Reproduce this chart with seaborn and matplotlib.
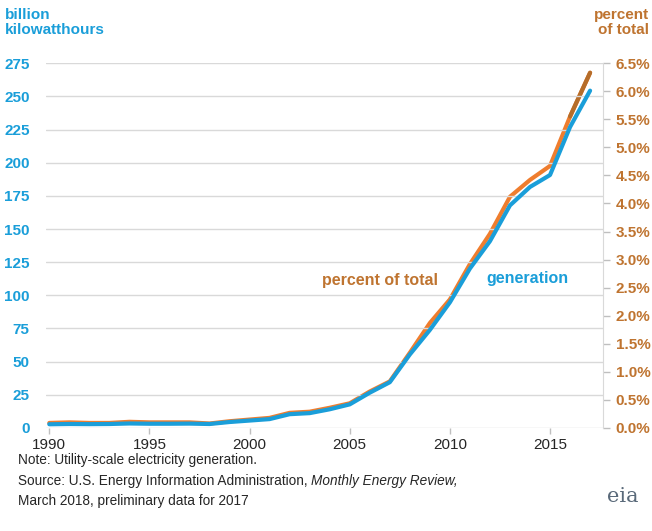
import pandas as pd
import seaborn as sns
import matplotlib.pyplot as plt

# wind electricity generation, utility-scale
years = list(range(1990, 2018))
generation = [2.8, 3.0, 2.9, 3.0, 3.4, 3.2, 3.2, 3.3, 3.0, 4.5,
              5.6, 6.7, 10.4, 11.2, 14.1, 17.8, 26.6, 34.5, 55.4, 73.9,
              94.7, 120.2, 140.8, 167.8, 181.7, 190.7, 226.9, 254.3]
percent = [0.09, 0.10, 0.09, 0.09, 0.11, 0.10, 0.10, 0.10, 0.08, 0.12,
           0.15, 0.18, 0.27, 0.29, 0.36, 0.44, 0.65, 0.83, 1.34, 1.87,
           2.29, 2.92, 3.46, 4.12, 4.42, 4.67, 5.55, 6.33]
left_ticks = [0, 25, 50, 75, 100, 125, 150, 175, 200, 225, 250, 275]
right_ticks = [0.0, 0.5, 1.0, 1.5, 2.0, 2.5, 3.0, 3.5, 4.0, 4.5, 5.0, 5.5, 6.0, 6.5]
year_ticks = [1990, 1995, 2000, 2005, 2010, 2015]

df = pd.DataFrame({"year": years, "generation": generation, "percent": percent})

blue = "#1a9ed9"
orange = "#ef7d2e"
brown = "#bf7430"
dark_brown = "#b56d2a"

sns.set_style("white")
plt.rcParams["font.family"] = ["Liberation Sans", "DejaVu Sans"]

fig = plt.figure(figsize=(6.52, 5.31), dpi=100)
ax = fig.add_axes([0.071, 0.194, 0.854, 0.687])
ax2 = ax.twinx()

# gridlines
for t in left_ticks:
    ax.axhline(t, color="#d9d9d9", lw=1, zorder=0)

sns.lineplot(data=df, x="year", y="percent", ax=ax2, color=orange, lw=3)
# 2017 preliminary segment in darker brown
sns.lineplot(data=df.iloc[-2:], x="year", y="percent", ax=ax2, color=dark_brown, lw=3)
sns.lineplot(data=df, x="year", y="generation", ax=ax, color=blue, lw=3, zorder=3)

ax.set_zorder(ax2.get_zorder() + 1)
ax.patch.set_visible(False)

ax.set_xlim(1989.85, 2017.65)
ax.set_ylim(0, 275)
ax2.set_ylim(0, 6.5)

ax.set_yticks(left_ticks)
ax.set_yticklabels([str(t) for t in left_ticks], color=blue, fontweight="bold", fontsize=11)
ax.set_xticks(year_ticks)
ax.set_xticklabels([str(y) for y in year_ticks], fontsize=11)
ax2.set_yticks(right_ticks)
ax2.set_yticklabels([f"{t:.1f}%" for t in right_ticks], color=brown, fontweight="bold", fontsize=11)

ax.tick_params(axis="y", length=0, pad=12)
ax.tick_params(axis="x", bottom=True, length=4, color="#bfbfbf", width=1, pad=3)
ax2.tick_params(axis="y", right=True, length=5, color="#bfbfbf", width=1, pad=4)
ax.set_xlabel("")
ax.set_ylabel("")
ax2.set_ylabel("")

for a in (ax, ax2):
    for s in a.spines.values():
        s.set_visible(False)
ax2.spines["right"].set_visible(True)
ax2.spines["right"].set_color("#d9d9d9")

# titles for the axes
fig.text(0.008, 0.985, "billion\nkilowatthours", color=blue, fontweight="bold",
         fontsize=11, va="top", ha="left", linespacing=1.1)
fig.text(0.996, 0.985, "percent\nof total", color=brown, fontweight="bold",
         fontsize=11, va="top", ha="right", linespacing=1.1)

# series labels
ax.text(2006.5, 111, "percent of total", color=brown, fontweight="bold",
        fontsize=11.5, va="center", ha="center")
ax.text(2013.85, 113, "generation", color=blue, fontweight="bold",
        fontsize=11.5, va="center", ha="center")

# notes
fig.text(0.027, 0.133, "Note: Utility-scale electricity generation.", fontsize=9.8, va="center")
src = fig.text(0.027, 0.095, "Source: U.S. Energy Information Administration, ",
               fontsize=9.8, va="center")
fig.canvas.draw()
bb = src.get_window_extent()
fig.text(bb.x1 / fig.bbox.width, 0.095, "Monthly Energy Review,", fontsize=9.8,
         va="center", style="italic")
fig.text(0.027, 0.057, "March 2018, preliminary data for 2017", fontsize=9.8, va="center")

# eia logo text
fig.text(0.955, 0.065, "eia", fontsize=15, color="#5a6a7a", family="DejaVu Serif",
         ha="center", va="center")

fig.savefig("out.png", dpi=100)
